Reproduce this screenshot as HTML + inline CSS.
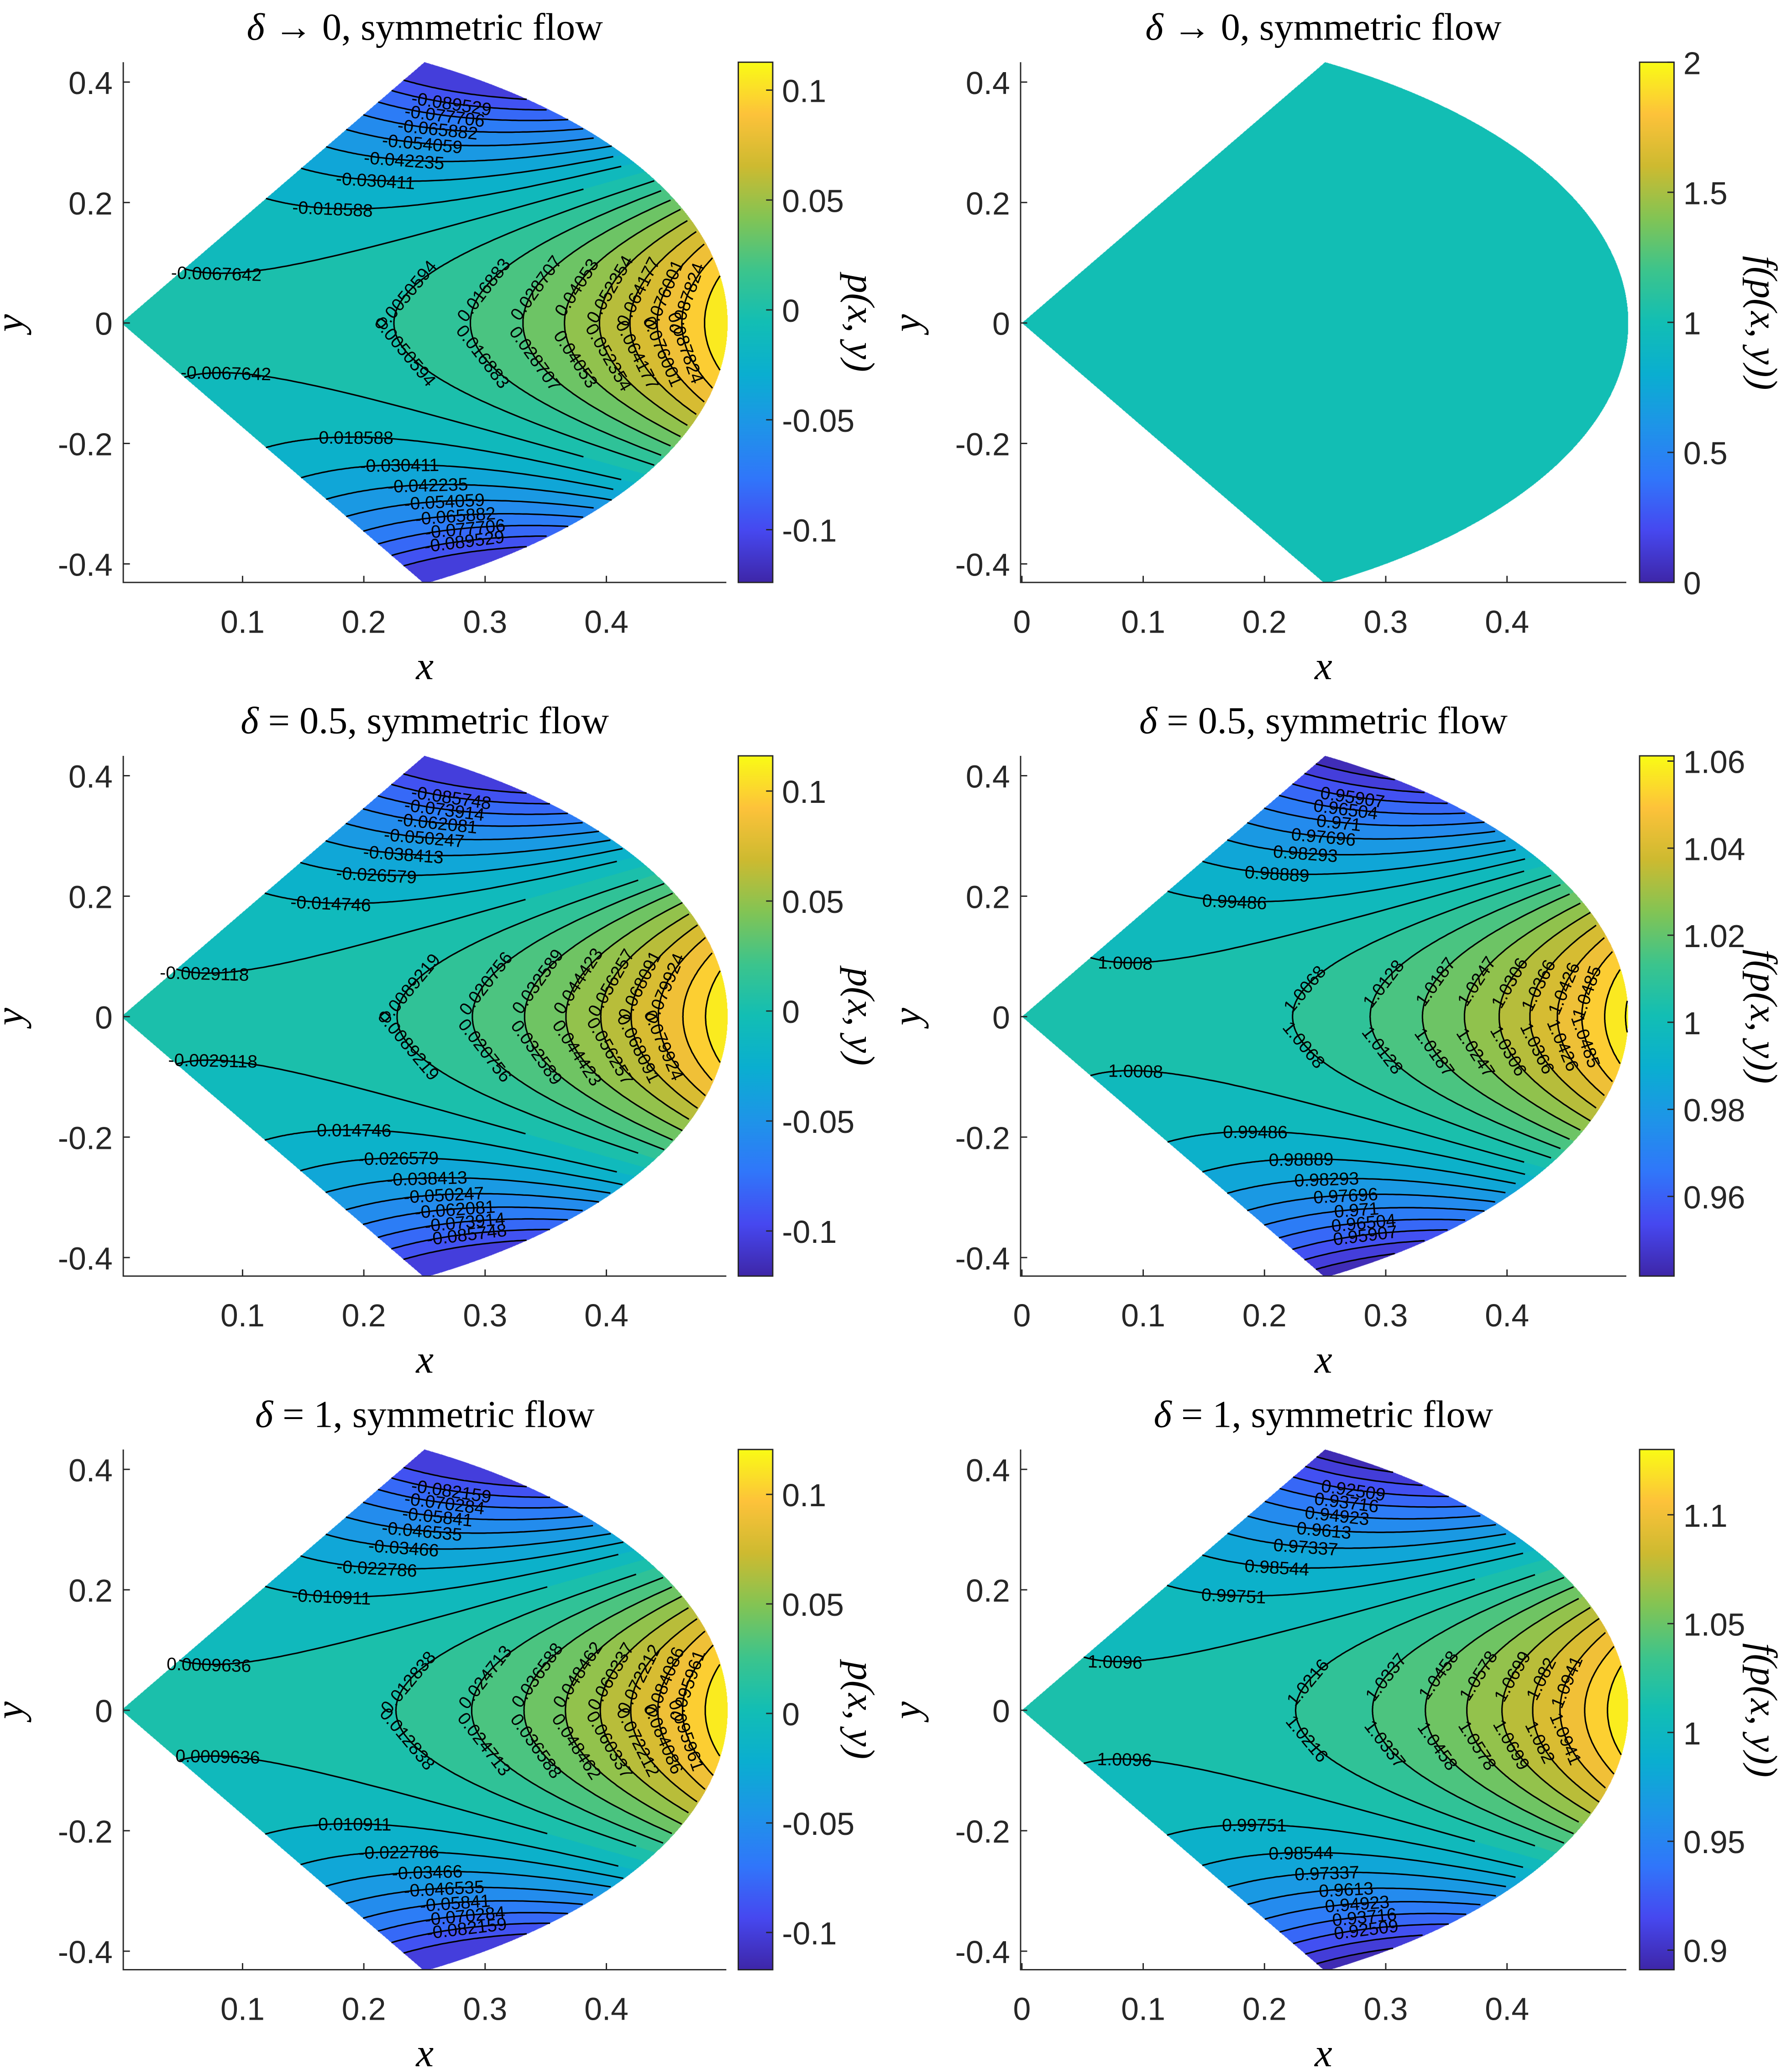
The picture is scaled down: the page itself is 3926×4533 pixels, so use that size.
<!DOCTYPE html>
<html><head><meta charset="utf-8">
<style>
html,body{margin:0;padding:0;background:#fff;}
#root{position:relative;width:1352px;height:1563px;transform:scale(2.90385,2.90019);transform-origin:0 0;}
canvas{position:absolute;}
svg{position:absolute;left:0;top:0;}
</style></head>
<body>
<div id="root">
<svg id="ov" width="1352" height="1563" viewBox="0 0 1352 1563"></svg>
</div>
<script>
// ---- data ----
const rowTitles = ["\u2192 0, symmetric flow", "= 0.5, symmetric flow", "= 1, symmetric flow"];
const fieldAmp = [0.947, 0.946, 0.95];
const fieldOffset = [-0.0057, -0.0022, 0.0018];
const mapScale = [0, 0.505, 1.006];
const mapOffset = [1, 1.0026, 1.0088];
const pRangeMin = [-0.124, -0.1205, -0.117];
const pRangeMax = [0.1127, 0.116, 0.1205];
const fRangeMin = [0, 0.9417, 0.891];
const fRangeMax = [2, 1.0612, 1.130];
const levelsP1 = [-0.1013,-0.089529,-0.077706,-0.065882,-0.054059,-0.042235,-0.030411,-0.018588,-0.0067642,0.0050594,0.016883,0.028707,0.04053,0.052354,0.064177,0.076001,0.087824,0.099648];
const levelsP2 = [-0.097582,-0.085748,-0.073914,-0.062081,-0.050247,-0.038413,-0.026579,-0.014746,-0.0029118,0.0089219,0.020756,0.032589,0.044423,0.056257,0.068091,0.079924,0.091758,0.10359];
const levelsP3 = [-0.094033,-0.082159,-0.070284,-0.05841,-0.046535,-0.03466,-0.022786,-0.010911,0.0009636,0.012838,0.024713,0.036588,0.048462,0.060337,0.072212,0.084086,0.095961,0.10784];
const levelsF1 = [];
const levelsF2 = [0.94714,0.95311,0.95907,0.96504,0.971,0.97696,0.98293,0.98889,0.99486,1.0008,1.0068,1.0128,1.0187,1.0247,1.0306,1.0366,1.0426,1.0485,1.0545,1.0604];
const levelsF3 = [0.90095,0.91302,0.92509,0.93716,0.94923,0.9613,0.97337,0.98544,0.99751,1.0096,1.0216,1.0337,1.0458,1.0578,1.0699,1.082,1.0941,1.1061,1.1182];
const pTicks = [-0.1,-0.05,0,0.05,0.1];
const pTickLabels = ["-0.1","-0.05","0","0.05","0.1"];
const fTicks1 = [0,0.5,1,1.5,2];
const fTickLabels1 = ["0","0.5","1","1.5","2"];
const fTicks2 = [0.96,0.98,1,1.02,1.04,1.06];
const fTickLabels2 = ["0.96","0.98","1","1.02","1.04","1.06"];
const fTicks3 = [0.9,0.95,1,1.05,1.1];
const fTickLabels3 = ["0.9","0.95","1","1.05","1.1"];
const xTicksLeft = [0.1,0.2,0.3,0.4];
const xTicksRight = [0,0.1,0.2,0.3,0.4];
const yTicks = [-0.4,-0.2,0,0.2,0.4];
const yTickLabels = ["-0.4","-0.2","0","0.2","0.4"];

// ---- parula-like colormap ----
const PAR = [[62,38,168],[70,72,240],[48,118,250],[30,148,232],[10,174,208],[18,190,180],[60,196,140],[130,196,84],[205,186,48],[253,194,58],[249,251,21]];
function parula(t){t=Math.max(0,Math.min(1,t));const s=t*(PAR.length-1);const i=Math.min(PAR.length-2,Math.floor(s));const f=s-i;
 return PAR[i].map((v,k)=>Math.round(v+(PAR[i+1][k]-v)*f));}

const NS="http://www.w3.org/2000/svg";
const ov=document.getElementById('ov');
const root=document.getElementById('root');
function mk(tag,attrs,parent){const e=document.createElementNS(NS,tag);for(const k in attrs)e.setAttribute(k,attrs[k]);(parent||ov).appendChild(e);return e;}

const XS=915, YS=455;
function panelGeom(row,col){
 const x0 = col===0?91.5:771;
 const y0 = 244+524*row;
 return {x0,y0,left:col===0?93:770,right:col===0?550:1230,axRight:col===0?548:1227,top:47+524*row,bottom:440+524*row,
   cbx:col===0?557:1237};
}
function fieldP(row,x,y){const r=Math.hypot(x,y),th=Math.atan2(y,x);return fieldAmp[row]*r*r*r*Math.cos(3*th)+fieldOffset[row];}

for(let row=0;row<3;row++){
 for(let col=0;col<2;col++){
  const g=panelGeom(row,col);
  const sx=x=>g.x0+x*XS, sy=y=>g.y0-y*YS;
  const levels = col===0?[levelsP1,levelsP2,levelsP3][row]:[levelsF1,levelsF2,levelsF3][row];
  const vmin = col===0?pRangeMin[row]:fRangeMin[row];
  const vmax = col===0?pRangeMax[row]:fRangeMax[row];
  const toV = p => col===0?p:mapOffset[row]+mapScale[row]*p;
  const W=g.right-g.left, H=g.bottom-g.top, R=3;
  const cv=document.createElement('canvas');cv.width=W*R;cv.height=H*R;
  cv.style.left=g.left+'px';cv.style.top=g.top+'px';cv.style.width=W+'px';cv.style.height=H+'px';
  
  
  root.insertBefore(cv,ov);
  const ctx=cv.getContext('2d');const img=ctx.createImageData(cv.width,cv.height);
  for(let j=0;j<cv.height;j++){for(let i=0;i<cv.width;i++){
   const px=g.left+(i+0.5)/R, py=g.top+(j+0.5)/R;
   const x=(px-g.x0)/XS, y=(g.y0-py)/YS;
   const r=Math.hypot(x,y), th=Math.atan2(y,x);
   if(r>0.5||Math.abs(th)>Math.PI/3) continue;
   let v=toV(fieldP(row,x,y));
   if(levels.length){let lo=null,hi=null;for(const L of levels){if(L<=v)lo=L;else{hi=L;break;}}
     if(lo===null)lo=levels[0]-(levels[1]-levels[0]);
     if(hi===null)hi=levels[levels.length-1]+(levels[1]-levels[0]);
     v=(lo+hi)/2;}
   const c=parula((v-vmin)/(vmax-vmin));const k=(j*cv.width+i)*4;
   img.data[k]=c[0];img.data[k+1]=c[1];img.data[k+2]=c[2];img.data[k+3]=255;}}
  ctx.putImageData(img,0,0);
  const A=fieldAmp[row],B=fieldOffset[row];
  levels.forEach((L,li)=>{
   const pc = col===0?L:(L-mapOffset[row])/mapScale[row];
   let segs=[],cur=[];
   for(let d=-60;d<=60.001;d+=0.25){const th=d*Math.PI/180;const q=(pc-B)/(A*Math.cos(3*th));
    if(q>0&&Math.cbrt(q)<=0.5){const r=Math.cbrt(q);cur.push([sx(r*Math.cos(th)),sy(r*Math.sin(th))]);}
    else{if(cur.length>1)segs.push(cur);cur=[];}}
   if(cur.length>1)segs.push(cur);
   segs.forEach((s,si)=>{
    const p=mk('polyline',{points:s.map(a=>a[0].toFixed(1)+','+a[1].toFixed(1)).join(' '),fill:'none',stroke:'#000','stroke-width':1.1});
    
    
    let len=0;for(let k=1;k<s.length;k++)len+=Math.hypot(s[k][0]-s[k-1][0],s[k][1]-s[k-1][1]);
    if(len<110) return;
    const fr = segs.length>1 ? [0.55] : [0.3,0.7];
    fr.forEach(f=>{
     const idx=Math.max(1,Math.min(s.length-2,Math.round(f*(s.length-1))));
     const a=s[idx-1],b=s[idx+1];let ang=Math.atan2(b[1]-a[1],b[0]-a[0])*180/Math.PI;
     if(ang>90)ang-=180;if(ang<-90)ang+=180;
     const t=mk('text',{x:s[idx][0],y:s[idx][1]+5,'font-family':'Liberation Sans, sans-serif','font-size':13.5,'text-anchor':'middle',fill:'#000',transform:`rotate(${ang.toFixed(1)} ${s[idx][0].toFixed(1)} ${s[idx][1].toFixed(1)})`});
     t.textContent=String(L);
     
     
    });
   });
  });
  const ax=mk('path',{d:`M${g.left} ${g.top} V${g.bottom} H${g.axRight}`,stroke:'#262626','stroke-width':1,fill:'none'});
  
  
  const xt = col===0?xTicksLeft:xTicksRight;
  xt.forEach(v=>{const X=sx(v);mk('line',{x1:X,x2:X,y1:g.bottom,y2:g.bottom-5,stroke:'#262626'});
   const t=mk('text',{x:X,y:g.bottom+38,'font-family':'Liberation Sans, sans-serif','font-size':24,'text-anchor':'middle',fill:'#262626'});t.textContent=String(v);
   
   });
  yTicks.forEach((v,i)=>{const Y=sy(v);mk('line',{x1:g.left,x2:g.left+5,y1:Y,y2:Y,stroke:'#262626'});
   const t=mk('text',{x:g.left-8,y:Y+9,'font-family':'Liberation Sans, sans-serif','font-size':24,'text-anchor':'end',fill:'#262626'});t.textContent=yTickLabels[i];
   
   });
  const cx=(g.left+g.axRight)/2;
  const xl=mk('text',{x:cx,y:g.bottom+73,'font-family':'Liberation Serif, serif','font-style':'italic','font-size':30,'text-anchor':'middle',fill:'#000'});xl.textContent='x';
  
  
  const yx=g.left-76, yy=g.y0;
  const yl=mk('text',{x:yx,y:yy,'font-family':'Liberation Serif, serif','font-style':'italic','font-size':30,'text-anchor':'middle',fill:'#000',transform:`rotate(-90 ${yx} ${yy})`});yl.textContent='y';
  
  
  const ti=mk('text',{x:cx,y:g.top-17,'font-family':'Liberation Serif, serif','font-size':29,'text-anchor':'middle',fill:'#000'});
  const d=mk('tspan',{'font-style':'italic'},ti);d.textContent='\u03b4 ';
  const rest=mk('tspan',{},ti);rest.textContent=rowTitles[row];
  
  
  const gid='cbg'+row+col;
  const defs=mk('defs',{});const lg=mk('linearGradient',{id:gid,x1:0,y1:1,x2:0,y2:0},defs);
  for(let s=0;s<=20;s++){const c=parula(s/20);mk('stop',{offset:s/20,'stop-color':`rgb(${c})`},lg);}
  const cb=mk('rect',{x:g.cbx,y:g.top,width:26,height:g.bottom-g.top,fill:`url(#${gid})`,stroke:'#262626','stroke-width':1});
  
  
  const ticks = col===0?pTicks:[fTicks1,fTicks2,fTicks3][row];
  const tl = col===0?pTickLabels:[fTickLabels1,fTickLabels2,fTickLabels3][row];
  ticks.forEach((v,i)=>{const Y=g.bottom-(v-vmin)/(vmax-vmin)*(g.bottom-g.top);
   mk('line',{x1:g.cbx+26,x2:g.cbx+21,y1:Y,y2:Y,stroke:'#262626'});
   const t=mk('text',{x:g.cbx+33,y:Y+9,'font-family':'Liberation Sans, sans-serif','font-size':24,fill:'#262626'});t.textContent=tl[i];
   
   });
  const lx=col===0?g.cbx+83:g.cbx+84, ly=g.y0;
  const cl=mk('text',{x:lx,y:ly,'font-family':'Liberation Serif, serif','font-style':'italic','font-size':29,'text-anchor':'middle',fill:'#000',transform:`rotate(90 ${lx} ${ly})`});
  cl.textContent=col===0?'p(x, y)':'f(p(x, y))';
  
  
 }
}
</script>
</body></html>
